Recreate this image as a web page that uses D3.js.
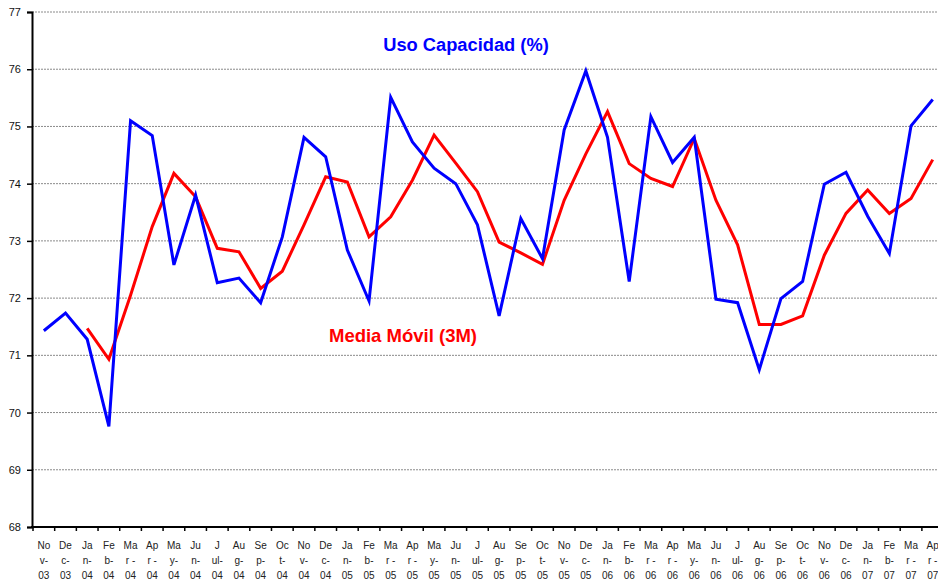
<!DOCTYPE html>
<html>
<head>
<meta charset="utf-8">
<script src="https://cdn.jsdelivr.net/npm/d3@7"></script>
<style>
  body { margin: 0; background: #fff; }
  svg { display: block; }
</style>
</head>
<body>
<div id="chart"></div>
<script>
// months Nov-03 .. Apr-07, each label wrapped in three lines like the original
const months = ["Nov-03","Dec-03","Jan-04","Feb-04","Mar-04","Apr-04","May-04","Jun-04","Jul-04","Aug-04","Sep-04","Oct-04",
  "Nov-04","Dec-04","Jan-05","Feb-05","Mar-05","Apr-05","May-05","Jun-05","Jul-05","Aug-05","Sep-05","Oct-05",
  "Nov-05","Dec-05","Jan-06","Feb-06","Mar-06","Apr-06","May-06","Jun-06","Jul-06","Aug-06","Sep-06","Oct-06",
  "Nov-06","Dec-06","Jan-07","Feb-07","Mar-07","Apr-07"];
const wrapParts = {Jan:["Ja","n-"],Feb:["Fe","b-"],Mar:["Ma","r -"],Apr:["Ap","r -"],May:["Ma","y-"],Jun:["Ju","n-"],
  Jul:["J","ul-"],Aug:["Au","g-"],Sep:["Se","p-"],Oct:["Oc","t-"],Nov:["No","v-"],Dec:["De","c-"]};

const usoCapacidad = [71.43,71.74,71.28,69.76,75.10,74.84,72.58,73.80,72.27,72.35,71.92,73.07,
  74.81,74.47,72.84,71.95,75.51,74.73,74.27,74.00,73.28,71.69,73.39,72.69,
  74.94,75.97,74.81,72.29,75.17,74.37,74.81,71.98,71.92,70.75,71.99,72.29,
  73.99,74.20,73.43,72.78,75.01,75.47];
const mediaMovil = [null,null,71.47,70.93,72.05,73.25,74.18,73.77,72.87,72.81,72.17,72.47,
  73.28,74.12,74.03,73.07,73.42,74.06,74.85,74.36,73.86,72.98,72.79,72.59,
  73.71,74.52,75.26,74.35,74.09,73.95,74.79,73.71,72.93,71.54,71.54,71.69,
  72.75,73.48,73.89,73.48,73.74,74.42];
const yTicks = [68,69,70,71,72,73,74,75,76,77];

const W = 938, H = 581;
const plotLeft = 32, plotTop = 12, plotBottom = 527;
const step = 21.68;

const svg = d3.select("#chart").append("svg").attr("width", W).attr("height", H);

const x = d3.scaleBand().domain(months).range([plotLeft + 1, plotLeft + 1 + months.length * step]);
const y = d3.scaleLinear().domain([68, 77]).range([plotBottom, plotTop]);
const cx = d => x(d) + x.bandwidth() / 2;

// gridlines
svg.append("g").selectAll("line").data(yTicks.filter(t => t > 68)).enter().append("line")
  .attr("x1", plotLeft).attr("x2", W).attr("y1", d => y(d)).attr("y2", d => y(d))
  .attr("stroke", "#8a8a8a").attr("stroke-width", 1).attr("stroke-dasharray", "2,1");

// y axis
const yAxis = svg.append("g").attr("transform", "translate(" + plotLeft + ",0)")
  .call(d3.axisLeft(y).tickValues(yTicks).tickSize(5).tickFormat(d3.format("d")));
yAxis.select(".domain").attr("stroke", "#000").attr("stroke-width", 2);
yAxis.selectAll(".tick line").attr("stroke", "#000").attr("stroke-width", 1.5);
yAxis.selectAll(".tick text").attr("font-family", "Liberation Sans, Arial, sans-serif")
  .attr("font-size", 11).attr("fill", "#111").attr("x", -11);

// x axis: ticks at band edges
const xg = svg.append("g");
xg.append("line").attr("x1", plotLeft - 1).attr("x2", x.range()[1]).attr("y1", plotBottom).attr("y2", plotBottom)
  .attr("stroke", "#000").attr("stroke-width", 2);
xg.selectAll("line.tk").data(months).enter().append("line").attr("class", "tk")
  .attr("x1", d => x(d)).attr("x2", d => x(d)).attr("y1", plotBottom).attr("y2", plotBottom + 4)
  .attr("stroke", "#000").attr("stroke-width", 1.5);
const lab = xg.selectAll("text").data(months).enter().append("text")
  .attr("font-family", "Liberation Sans, Arial, sans-serif").attr("font-size", 10)
  .attr("fill", "#222").attr("text-anchor", "middle");
lab.each(function(d) {
  const p = wrapParts[d.slice(0, 3)];
  const lines = [p[0], p[1], d.slice(4)];
  d3.select(this).selectAll("tspan").data(lines).enter().append("tspan")
    .attr("x", cx(d)).attr("y", (l, i) => 549 + i * 15).text(l => l);
});

// lines
const lineGen = d3.line().defined(d => d.v != null).x(d => cx(d.m)).y(d => y(d.v));
svg.append("path").datum(months.map((m, i) => ({m, v: mediaMovil[i]})))
  .attr("d", lineGen).attr("fill", "none").attr("stroke", "#ff0000").attr("stroke-width", 3)
  .attr("stroke-linejoin", "miter");
svg.append("path").datum(months.map((m, i) => ({m, v: usoCapacidad[i]})))
  .attr("d", lineGen).attr("fill", "none").attr("stroke", "#0000ff").attr("stroke-width", 3)
  .attr("stroke-linejoin", "miter");

// series labels
svg.append("text").attr("x", 466).attr("y", 51).attr("text-anchor", "middle")
  .attr("font-family", "Liberation Sans, Arial, sans-serif").attr("font-weight", "bold")
  .attr("font-size", 18.3).attr("fill", "#0000ff").text("Uso Capacidad (%)");
svg.append("text").attr("x", 403).attr("y", 342).attr("text-anchor", "middle")
  .attr("font-family", "Liberation Sans, Arial, sans-serif").attr("font-weight", "bold")
  .attr("font-size", 18.5).attr("fill", "#ff0000").text("Media Móvil (3M)");
</script>
</body>
</html>
